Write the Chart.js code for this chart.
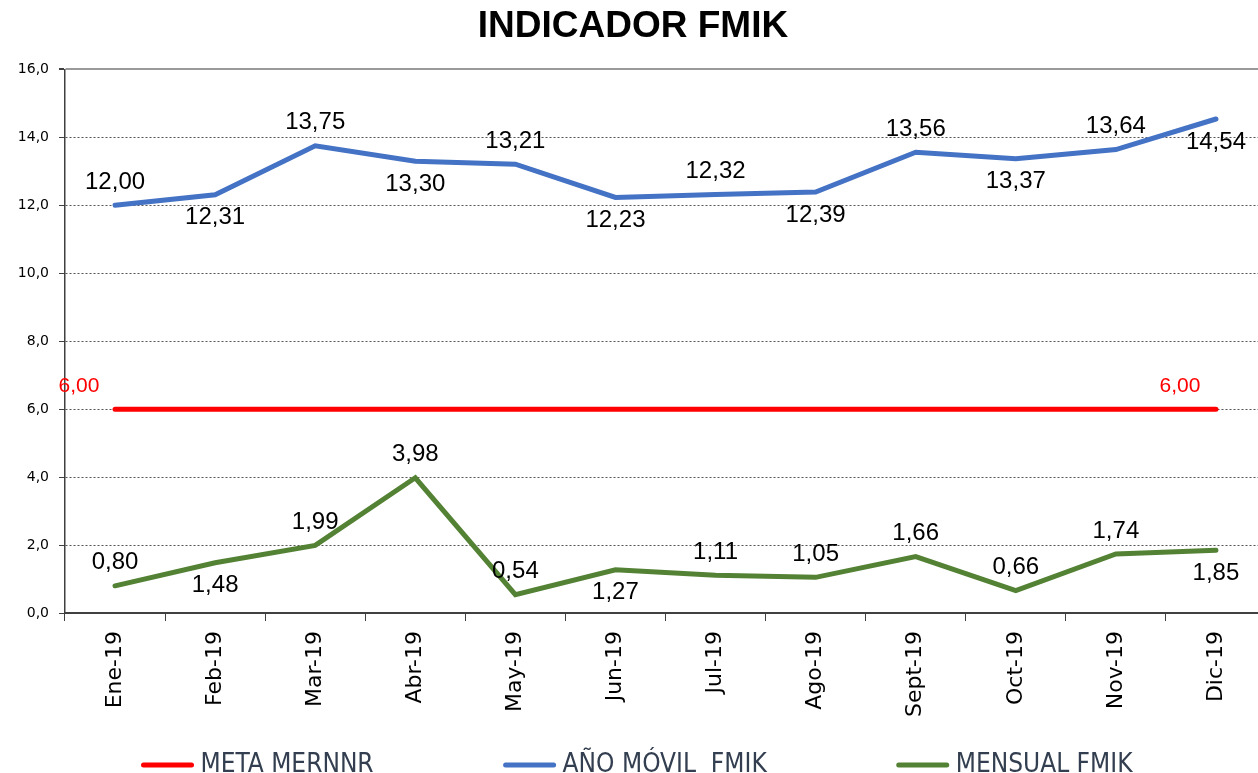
<!doctype html>
<html>
<head>
<meta charset="utf-8" />
<title>INDICADOR FMIK</title>
<style>
  html, body { margin: 0; padding: 0; overflow: hidden; background: #fff; }
  .wrap { position: relative; width: 1266px; height: 773px; }
</style>
</head>
<body>
<div class="wrap"><canvas id="chart"></canvas></div>

<script src="https://cdn.jsdelivr.net/npm/chart.js@4.4.1/dist/chart.umd.min.js"></script>
<script>
// categories and series
const months = ['Ene-19','Feb-19','Mar-19','Abr-19','May-19','Jun-19','Jul-19','Ago-19','Sept-19','Oct-19','Nov-19','Dic-19'];
const metaMernnr = [6, 6, 6, 6, 6, 6, 6, 6, 6, 6, 6, 6];
const anoMovil = [12.00, 12.31, 13.75, 13.30, 13.21, 12.23, 12.32, 12.39, 13.56, 13.37, 13.64, 14.54];
const mensual = [0.80, 1.48, 1.99, 3.98, 0.54, 1.27, 1.11, 1.05, 1.66, 0.66, 1.74, 1.85];
const yTicks = [0, 2, 4, 6, 8, 10, 12, 14, 16];

// where each value label sits: a = above, b = below, l = above-left, null = no label
const metaLabelPos = ['l', null, null, null, null, null, null, null, null, null, null, 'l'];
const anoLabelPos = ['a','b','a','b','a','b','a','b','a','b','a','b'];
const mensualLabelPos = ['a','b','a','a','a','b','a','a','a','a','a','b'];

const fmt = (v, d) => v.toFixed(d).replace('.', ',');

// draws the Excel-like data labels
const valueLabels = {
  id: 'valueLabels',
  afterDatasetsDraw(chart) {
    const { ctx } = chart;
    chart.data.datasets.forEach((ds, i) => {
      const meta = chart.getDatasetMeta(i);
      if (meta.hidden || !ds.labelPos) return;
      ctx.save();
      ctx.font = ds.labelFont;
      ctx.fillStyle = ds.labelColor;
      ctx.textAlign = 'center';
      ctx.textBaseline = 'middle';
      meta.data.forEach((pt, j) => {
        const pos = ds.labelPos[j];
        if (!pos) return;
        let x = pt.x, y = pt.y;
        if (pos === 'a') y -= 23;
        else if (pos === 'b') y += 23;
        else if (pos === 'l') { y -= 23; x -= 36; }
        ctx.fillText(fmt(ds.data[j], 2), x, y);
      });
      ctx.restore();
    });
  }
};

// bottom legend with wide gaps between the entries
const wideLegend = {
  id: 'wideLegend',
  afterDraw(chart) {
    const { ctx } = chart;
    const lineLen = 52, gapText = 7, gapItem = 130, y = 765;
    ctx.save();
    ctx.font = '26px "Liberation Sans Narrow", "DejaVu Sans Condensed", Arial, sans-serif';
    ctx.textBaseline = 'middle';
    const items = chart.data.datasets.map(ds => ({ ds, w: ctx.measureText(ds.label).width }));
    const total = items.reduce((s, it) => s + lineLen + gapText + it.w, 0) + gapItem * (items.length - 1);
    let x = chart.width / 2 + 4 - total / 2;
    items.forEach(({ ds, w }) => {
      ctx.strokeStyle = ds.borderColor;
      ctx.lineWidth = 5;
      ctx.lineCap = 'round';
      ctx.beginPath();
      ctx.moveTo(x + 2, y);
      ctx.lineTo(x + lineLen - 2, y);
      ctx.stroke();
      ctx.fillStyle = '#333f50';
      ctx.fillText(ds.label, x + lineLen + gapText, y);
      x += lineLen + gapText + w + gapItem;
    });
    ctx.restore();
  }
};

new Chart(document.getElementById('chart'), {
  type: 'line',
  data: {
    labels: months,
    datasets: [
      {
        label: 'META MERNNR',
        data: metaMernnr,
        borderColor: '#ff0000',
        backgroundColor: '#ff0000',
        borderWidth: 5,
        borderCapStyle: 'round',
        labelPos: metaLabelPos,
        labelColor: '#ff0000',
        labelFont: '21px "Liberation Sans", Arial, sans-serif'
      },
      {
        label: 'AÑO MÓVIL  FMIK',
        data: anoMovil,
        borderColor: '#4472c4',
        backgroundColor: '#4472c4',
        borderWidth: 5,
        borderCapStyle: 'round',
        labelPos: anoLabelPos,
        labelColor: '#000',
        labelFont: '24px "Liberation Sans", Arial, sans-serif'
      },
      {
        label: 'MENSUAL FMIK',
        data: mensual,
        borderColor: '#548235',
        backgroundColor: '#548235',
        borderWidth: 5,
        borderCapStyle: 'round',
        labelPos: mensualLabelPos,
        labelColor: '#000',
        labelFont: '24px "Liberation Sans", Arial, sans-serif'
      }
    ]
  },
  options: {
    responsive: true,
    maintainAspectRatio: false,
    animation: false,
    layout: { padding: { bottom: 40 } },
    elements: { point: { radius: 0, hoverRadius: 0 }, line: { tension: 0, borderJoinStyle: 'miter' } },
    plugins: {
      tooltip: { enabled: false },
      legend: { display: false },
      title: {
        display: true,
        text: 'INDICADOR FMIK',
        color: '#000',
        font: { family: '"Liberation Sans", Arial, sans-serif', size: 37, weight: 'bold' },
        padding: { top: 5, bottom: 20 }
      }
    },
    scales: {
      x: {
        offset: true,
        afterFit: (s) => { s.height = 120; },
        grid: { display: true, offset: true, drawOnChartArea: false, tickLength: 8, tickColor: '#404040', tickWidth: 1 },
        border: { display: true, color: '#404040', width: 2 },
        ticks: {
          autoSkip: false,
          maxRotation: 90,
          minRotation: 90,
          padding: 10,
          color: '#000',
          font: { family: '"DejaVu Sans", sans-serif', size: 22 }
        }
      },
      y: {
        min: 0,
        max: 16,
        afterFit: (s) => { s.width = 65; },
        afterBuildTicks: (s) => { s.ticks = yTicks.map(v => ({ value: v })); },
        grid: {
          color: (c) => c.tick && c.tick.value === 16 ? '#9a9a9a' : '#555',
          lineWidth: (c) => c.tick && c.tick.value === 16 ? 2 : 1,
          tickLength: 6,
          tickColor: '#404040'
        },
        border: {
          display: true,
          color: '#404040',
          width: 1.5,
          dash: (c) => c.tick && c.tick.value === 16 ? [] : [2, 2]
        },
        ticks: {
          padding: 10,
          color: '#000',
          font: { family: '"DejaVu Sans", sans-serif', size: 14 },
          callback: (v) => fmt(v, 1)
        }
      }
    }
  },
  plugins: [valueLabels, wideLegend]
});
</script>
</body>
</html>
